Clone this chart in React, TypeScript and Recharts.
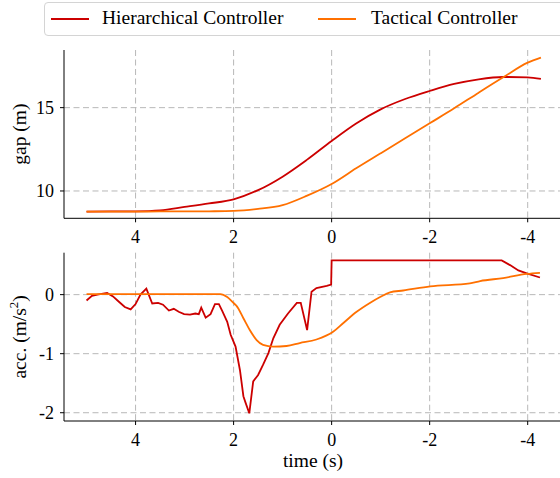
import React from 'react';
import { LineChart, Line, XAxis, YAxis, CartesianGrid, Legend } from 'recharts';

// shared time axis (reversed, s)
const timeTicks = [4, 2, 0, -2, -4];

// gap (m)
const gapTime = [5, 4.5, 4, 3.5, 3, 2.5, 2, 1.5, 1, 0.5, 0, -0.5, -1, -1.5, -2, -2.5, -3, -3.5, -4, -4.27];
const gapHier = [8.76, 8.77, 8.78, 8.84, 9.04, 9.25, 9.5, 10.05, 10.86, 11.88, 13.0, 14.05, 14.9, 15.52, 16.0, 16.42, 16.7, 16.84, 16.82, 16.73];
const gapTact = [8.76, 8.76, 8.76, 8.77, 8.77, 8.78, 8.8, 8.92, 9.15, 9.72, 10.42, 11.36, 12.26, 13.16, 14.06, 14.96, 15.9, 16.82, 17.7, 18.0];

// acceleration (m/s^2)
const accHierTime = [5.0, 4.89, 4.78, 4.58, 4.46, 4.34, 4.22, 4.1, 4.0, 3.9, 3.78, 3.66, 3.54, 3.44, 3.32, 3.22, 3.12, 3.01, 2.89, 2.78, 2.71, 2.66, 2.57, 2.47, 2.38, 2.3, 2.23, 2.13, 2.06, 1.96, 1.87, 1.8, 1.76, 1.68, 1.6, 1.5, 1.4, 1.29, 1.19, 1.06, 0.89, 0.71, 0.63, 0.5, 0.41, 0.31, 0.1, 0.01, 0.0, -3.47, -3.64, -3.81, -3.98, -4.25];
const accHier = [-0.1, -0.02, 0.0, 0.03, -0.03, -0.12, -0.21, -0.25, -0.16, 0.0, 0.1, -0.15, -0.14, -0.17, -0.27, -0.24, -0.29, -0.33, -0.34, -0.32, -0.33, -0.22, -0.39, -0.33, -0.16, -0.16, -0.28, -0.46, -0.68, -0.88, -1.28, -1.72, -1.82, -2.01, -1.47, -1.36, -1.19, -0.99, -0.74, -0.51, -0.32, -0.14, -0.14, -0.6, 0.05, 0.11, 0.15, 0.17, 0.58, 0.58, 0.5, 0.41, 0.36, 0.29];
const accTactTime = [5.0, 4.0, 3.0, 2.27, 2.13, 1.99, 1.94, 1.8, 1.67, 1.53, 1.4, 1.19, 0.92, 0.65, 0.31, -0.03, -0.24, -0.51, -0.78, -0.99, -1.19, -1.46, -2.01, -2.82, -3.03, -3.5, -3.98, -4.25];
const accTact = [0.01, 0.01, 0.01, 0.01, -0.04, -0.15, -0.19, -0.4, -0.6, -0.77, -0.85, -0.88, -0.87, -0.82, -0.76, -0.63, -0.48, -0.29, -0.14, -0.04, 0.04, 0.07, 0.14, 0.19, 0.23, 0.28, 0.35, 0.37];

const RED = '#cc0000';
const ORANGE = '#ff7000';
const FONT = '"Liberation Serif", "Times New Roman", serif';

const zip = (t: number[], v: number[]) => t.map((x, i) => ({ t: x, v: v[i] }));

const gapHierData = zip(gapTime, gapHier);
const gapTactData = zip(gapTime, gapTact);
const accHierData = zip(accHierTime, accHier);
const accTactData = zip(accTactTime, accTact);

const tickStyle = { fill: '#000', fontSize: 18, fontFamily: FONT };
const gridDash = '6 3.5';

const YLabel = ({ viewBox, text, sup }: any) => {
  const cx = 22;
  const cy = viewBox.y + viewBox.height / 2;
  return (
    <text
      x={cx}
      y={cy}
      transform={`rotate(-90 ${cx} ${cy})`}
      textAnchor="middle"
      dominantBaseline="middle"
      fontSize={19.5}
      fontFamily={FONT}
      fill="#000"
    >
      {text}
      {sup && (
        <>
          <tspan dy={-7} fontSize={13}>{sup}</tspan>
          <tspan dy={7}>)</tspan>
        </>
      )}
    </text>
  );
};

const LegendBox = () => (
  <div
    style={{
      position: 'relative',
      width: 530,
      height: 32,
      border: '1px solid #d4d4d4',
      borderRadius: 4,
      background: '#fff',
      fontFamily: FONT,
      fontSize: 19.5,
      color: '#000',
    }}
  >
    <div style={{ position: 'absolute', left: 6, top: 15, width: 38, height: 2, background: RED }} />
    <span style={{ position: 'absolute', left: 57, top: 4, whiteSpace: 'nowrap' }}>Hierarchical Controller</span>
    <div style={{ position: 'absolute', left: 273, top: 15, width: 38, height: 2, background: ORANGE }} />
    <span style={{ position: 'absolute', left: 326, top: 4, whiteSpace: 'nowrap' }}>Tactical Controller</span>
  </div>
);

const xProps = {
  dataKey: 't',
  type: 'number' as const,
  domain: [-4.7, 5.46],
  reversed: true,
  allowDataOverflow: true,
  ticks: timeTicks,
  tick: tickStyle,
  tickSize: 4,
  tickMargin: 8,
  tickLine: { stroke: '#000' },
  axisLine: { stroke: '#000', strokeWidth: 1 },
};

const App = () => {
  return (
    <div style={{ position: 'absolute', left: 0, top: 0, width: 560, height: 478, overflow: 'hidden', background: '#fff' }}>
      <div style={{ position: 'absolute', left: 0, top: 240 }}>
        <LineChart width={570} height={238} margin={{ top: 12.7, right: 8, left: 0, bottom: 0 }}>
          <CartesianGrid stroke="#b8b8b8" strokeDasharray={gridDash} verticalValues={timeTicks} horizontalValues={[0, -1, -2]} />
          <XAxis
            {...xProps}
            height={57}
            label={(p: any) => (
              <text x={313} y={p.viewBox.y + 42} textAnchor="middle" dominantBaseline="middle" fontSize={19.5} fontFamily={FONT} fill="#000">
                time (s)
              </text>
            )}
          />
          <XAxis xAxisId="top" orientation="top" dataKey="t" type="number" domain={[-4.7, 5.46]} reversed height={0} tick={false} tickLine={false} axisLine={{ stroke: '#000' }} />
          <YAxis
            type="number"
            domain={[-2.14, 0.71]}
            allowDataOverflow
            ticks={[-2, -1, 0]}
            width={64}
            tick={tickStyle}
            tickSize={4}
            tickMargin={6}
            tickLine={{ stroke: '#000' }}
            axisLine={{ stroke: '#000' }}
            label={(p: any) => <YLabel {...p} text="acc. (m/s" sup="2" />}
          />
          <Line data={accHierData} dataKey="v" stroke={RED} strokeWidth={1.8} dot={false} type="linear" isAnimationActive={false} />
          <Line data={accTactData} dataKey="v" stroke={ORANGE} strokeWidth={1.8} dot={false} type="monotone" isAnimationActive={false} />
        </LineChart>
      </div>
      <div style={{ position: 'absolute', left: 0, top: 0 }}>
        <LineChart width={570} height={250} margin={{ top: 50, right: 8, left: 0, bottom: 0 }}>
          <CartesianGrid stroke="#b8b8b8" strokeDasharray={gridDash} verticalValues={timeTicks} horizontalValues={[10, 15]} />
          <XAxis {...xProps} height={31.7} />
          <XAxis xAxisId="top" orientation="top" dataKey="t" type="number" domain={[-4.7, 5.46]} reversed height={0} tick={false} tickLine={false} axisLine={{ stroke: '#000' }} />
          <YAxis
            type="number"
            domain={[8.36, 18.46]}
            allowDataOverflow
            ticks={[10, 15]}
            width={64}
            tick={tickStyle}
            tickSize={4}
            tickMargin={6}
            tickLine={{ stroke: '#000' }}
            axisLine={{ stroke: '#000' }}
            label={(p: any) => <YLabel {...p} text="gap (m)" />}
          />
          <Legend
            verticalAlign="middle"
            align="center"
            layout="horizontal"
            wrapperStyle={{ position: 'absolute', top: 2, left: 44, width: 530 }}
            content={() => <LegendBox />}
          />
          <Line data={gapHierData} dataKey="v" name="Hierarchical Controller" stroke={RED} strokeWidth={1.8} dot={false} type="monotone" isAnimationActive={false} />
          <Line data={gapTactData} dataKey="v" name="Tactical Controller" stroke={ORANGE} strokeWidth={1.8} dot={false} type="monotone" isAnimationActive={false} />
        </LineChart>
      </div>
    </div>
  );
};

export default App;
